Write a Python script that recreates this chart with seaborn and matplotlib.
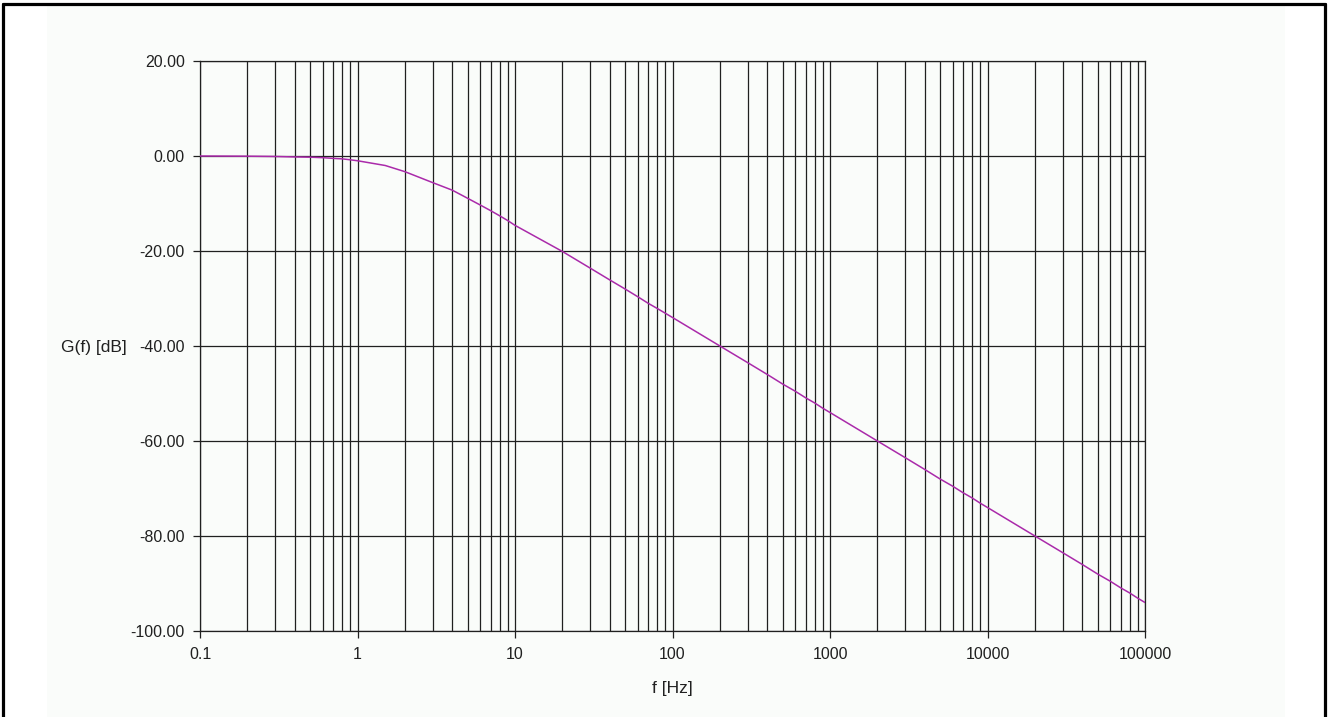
import numpy as np
import pandas as pd
import seaborn as sns
import matplotlib.pyplot as plt
from matplotlib.patches import Rectangle
from matplotlib.lines import Line2D
from matplotlib.ticker import FixedLocator, FixedFormatter, FormatStrFormatter, NullFormatter

# frecuencias (1..9 por decada) y ganancia
freq_hz = [0.1, 0.2, 0.3, 0.4, 0.5, 0.6, 0.7, 0.8, 0.9,
           1, 1.5, 2, 3, 4, 5, 6, 7, 8, 9,
           10, 20, 30, 40, 50, 60, 70, 80, 90,
           100, 200, 300, 400, 500, 600, 700, 800, 900,
           1000, 2000, 3000, 4000, 5000, 6000, 7000, 8000, 9000,
           10000, 20000, 30000, 40000, 50000, 60000, 70000, 80000, 90000,
           100000]
gain_db = [0.0, -0.04, -0.1, -0.2, -0.25, -0.35, -0.5, -0.6, -0.8,
           -1.0, -2.0, -3.3, -5.6, -7.2, -8.9, -10.3, -11.5, -12.6, -13.6,
           -14.6, -20.1, -23.6, -26.1, -28.0, -29.6, -31.0, -32.1, -33.1,
           -34.0, -40.0, -43.5, -46.0, -48.0, -49.5, -50.9, -52.0, -53.1,
           -54.0, -60.0, -63.5, -66.0, -68.0, -69.5, -70.9, -72.0, -73.1,
           -74.0, -80.0, -83.5, -86.0, -88.0, -89.5, -90.9, -92.0, -93.1,
           -94.0]

x_ticks = [0.1, 1, 10, 100, 1000, 10000, 100000]
x_tick_labels = ['0.1', '1', '10', '100', '1000', '10000', '100000']
y_ticks = [-100, -80, -60, -40, -20, 0, 20]

df = pd.DataFrame({'f': freq_hz, 'G': gain_db})

sns.set_style('white')
plt.rcParams['font.family'] = ['Liberation Sans', 'DejaVu Sans']
plt.rcParams['axes.unicode_minus'] = False

W, H = 1328, 717
fig = plt.figure(figsize=(W / 100, H / 100), dpi=100, facecolor='white')
bg = '#FAFCFA'
fig.patches.append(Rectangle((47 / W, 0), (1285 - 47) / W, (H - 4) / H,
                             transform=fig.transFigure, facecolor=bg, edgecolor='none', zorder=-2))
# borde negro exterior
for xs, ys in [([3.5 / W, 3.5 / W], [0, 1 - 3.5 / H]),
               ([3.5 / W, 1 - 3.5 / W], [1 - 3.5 / H, 1 - 3.5 / H]),
               ([1 - 3.5 / W, 1 - 3.5 / W], [0, 1 - 3.5 / H])]:
    fig.lines.append(Line2D(xs, ys, transform=fig.transFigure, color='black', lw=2.3, zorder=5))

ax = fig.add_axes([200 / W, 1 - 631 / H, (1145 - 200) / W, (631 - 61) / H])
ax.set_facecolor(bg)

sns.lineplot(data=df, x='f', y='G', ax=ax, color='#AA2AAA', linewidth=1.1, zorder=3)

ax.set_xscale('log')
ax.set_xlim(0.1, 100000)
ax.set_ylim(-100, 20)

ax.xaxis.set_major_locator(FixedLocator(x_ticks))
ax.xaxis.set_major_formatter(FixedFormatter(x_tick_labels))
minor = [m * 10.0 ** e for e in range(-1, 5) for m in range(2, 10)]
ax.xaxis.set_minor_locator(FixedLocator(minor))
ax.xaxis.set_minor_formatter(NullFormatter())
ax.yaxis.set_major_locator(FixedLocator(y_ticks))
ax.yaxis.set_major_formatter(FormatStrFormatter('%.2f'))

ax.grid(True, which='both', axis='x', color='#202020', linewidth=0.9)
ax.grid(True, which='major', axis='y', color='#202020', linewidth=0.9)
ax.tick_params(axis='both', which='major', direction='out', length=5, width=0.9,
               color='#202020', labelsize=11.5, labelcolor='#202020')
ax.tick_params(axis='x', which='major', pad=6.5)
ax.tick_params(axis='y', which='major', pad=6)
ax.tick_params(axis='x', which='minor', length=0)
ax.tick_params(bottom=True, left=True)
for s in ax.spines.values():
    s.set_color('#202020')
    s.set_linewidth(0.9)

ax.set_xlabel('f [Hz]', fontsize=12.5, color='#202020')
ax.xaxis.set_label_coords(0.5, -0.088)
ax.set_ylabel('G(f) [dB]', fontsize=12.5, color='#202020', rotation=0, ha='right', va='center')
ax.yaxis.set_label_coords(-0.078, 0.498)

fig.savefig('out.png', dpi=100, facecolor='white')
